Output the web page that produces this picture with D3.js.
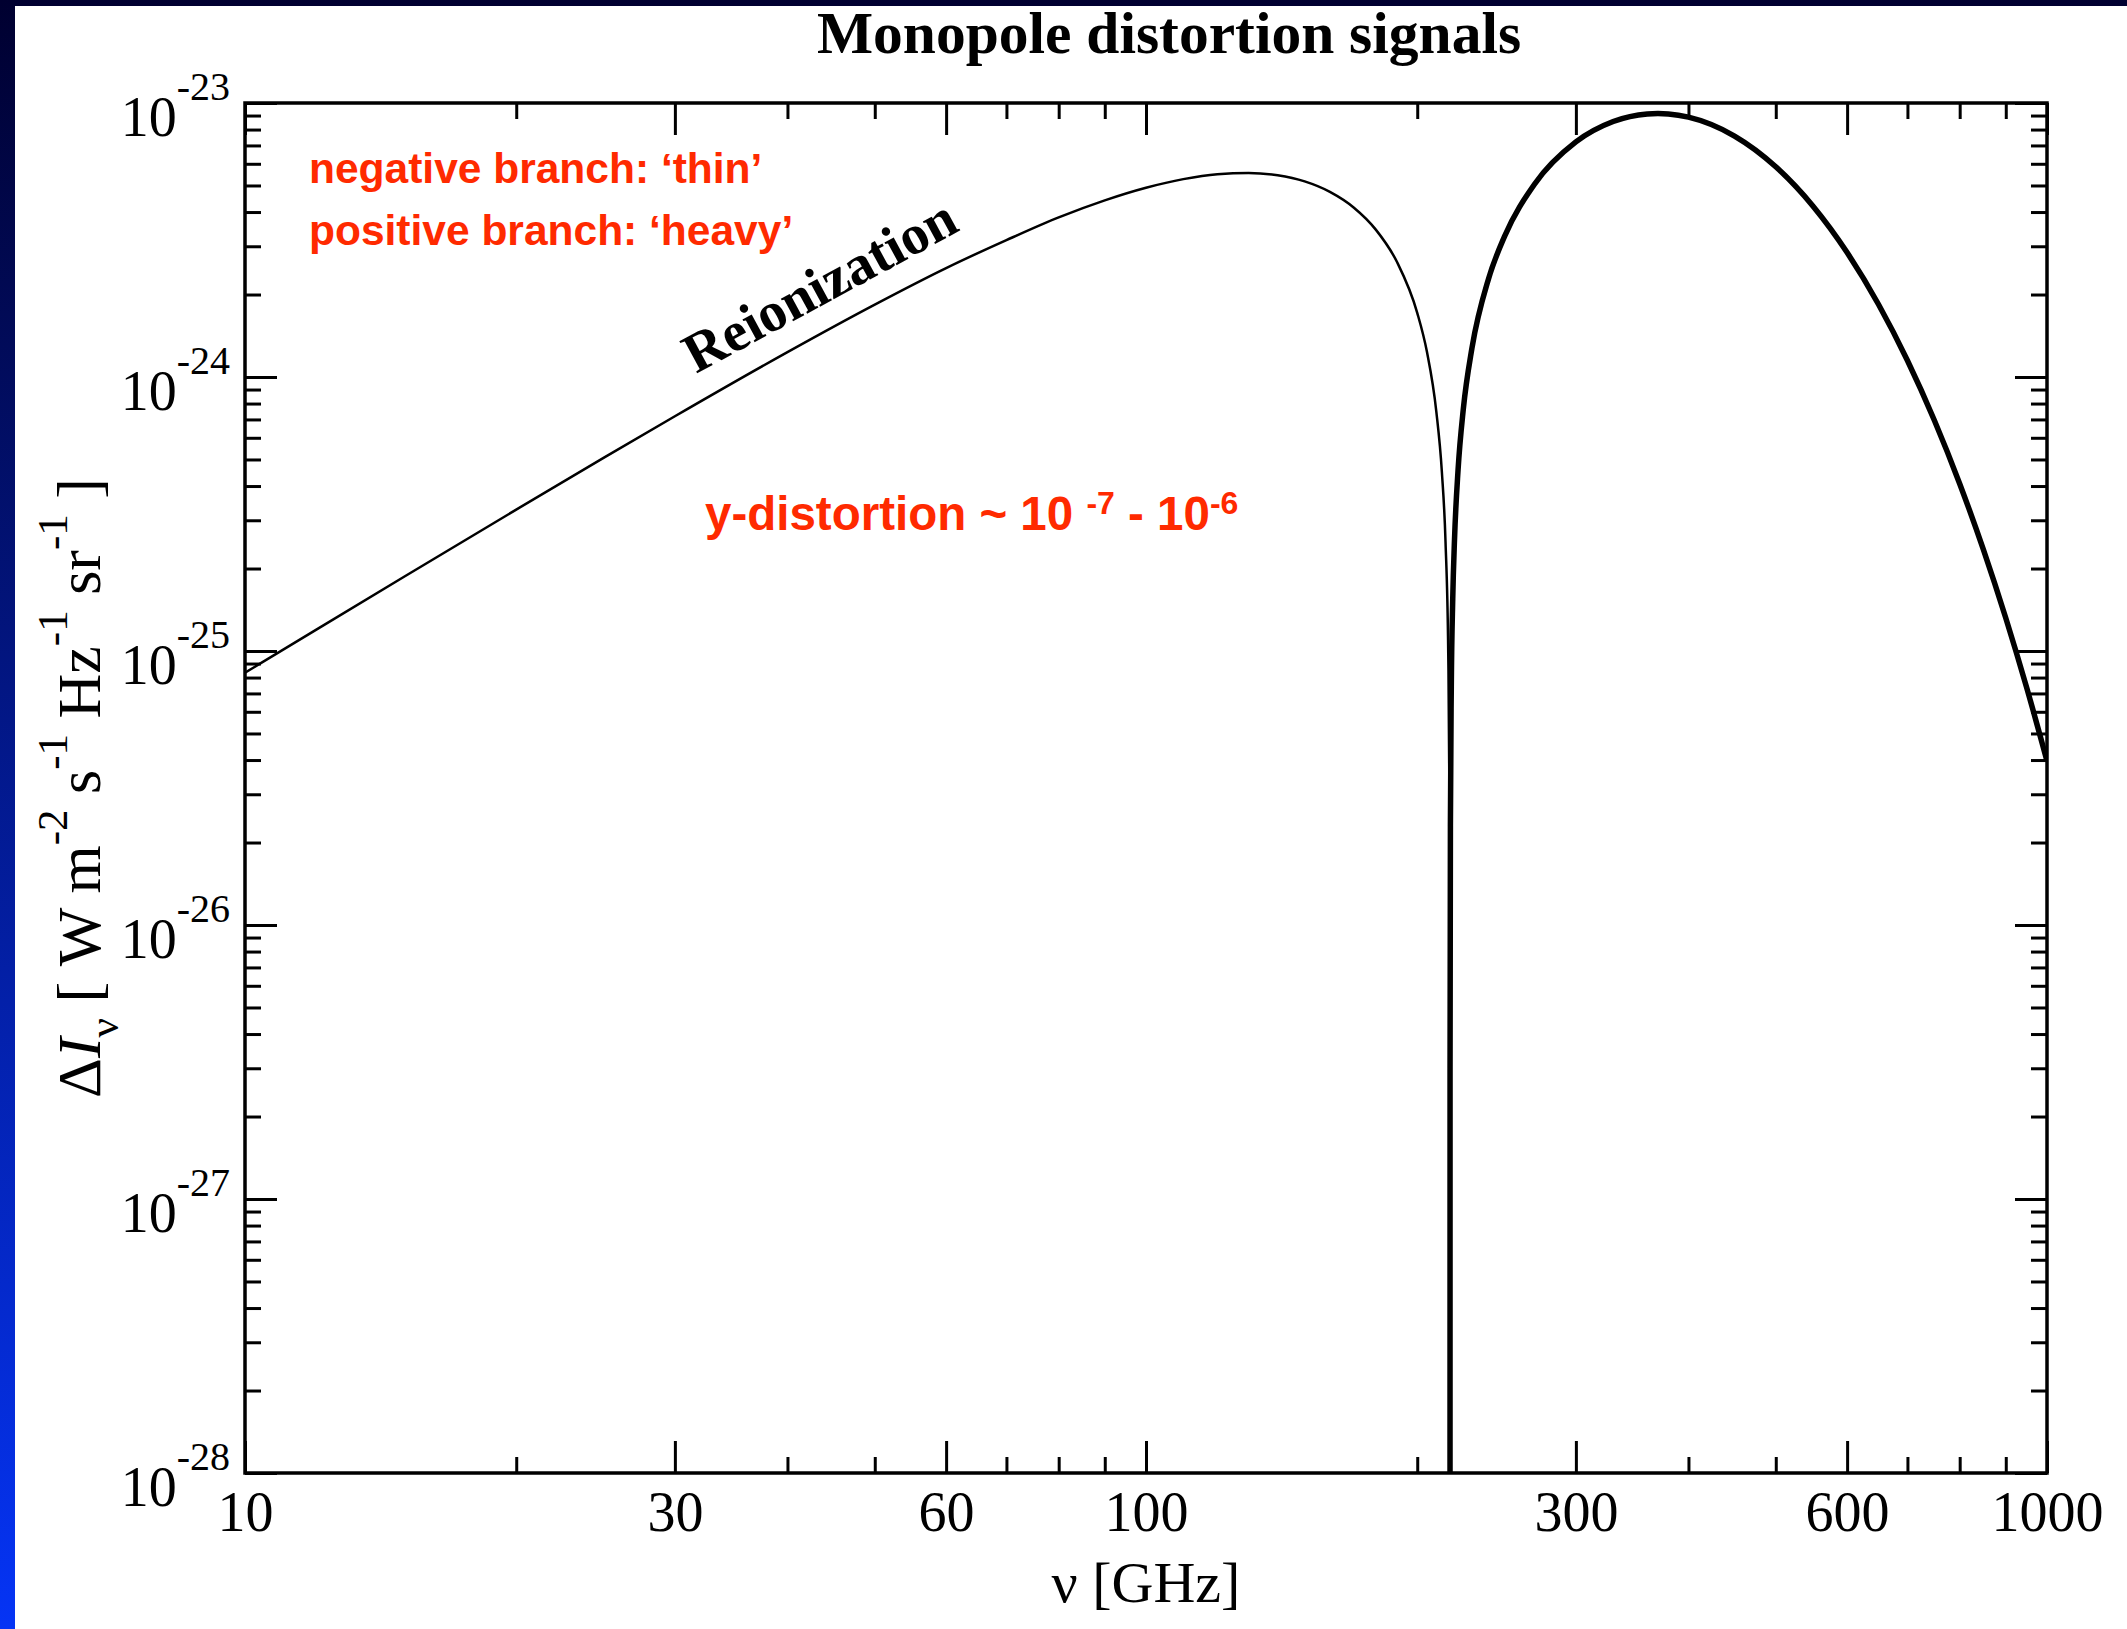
<!DOCTYPE html>
<html>
<head>
<meta charset="utf-8">
<script src="https://cdn.jsdelivr.net/npm/d3@7"></script>
<style>
  body { margin: 0; overflow: hidden; background: #fff; }
  .serif { font-family: "Liberation Serif", "Times New Roman", serif; }
  .sans { font-family: "Liberation Sans", Arial, sans-serif; }
</style>
</head>
<body>
<div id="chart"></div>
<script>
var svgWidth = 2127;
var svgHeight = 1629;

var margin = { top: 103, right: 80, bottom: 156, left: 245 };
var width = svgWidth - margin.left - margin.right;
var height = svgHeight - margin.top - margin.bottom;

// negative branch (plotted as |dI|), thin line
var negFreq = [10, 12, 15, 20, 25, 30, 40, 50, 60, 70, 80, 90, 100, 110, 120, 130, 140, 150,
  160, 170, 180, 190, 200, 205, 210, 213, 215, 216.5, 217.2, 217.45, 217.47];
var negVal = [8.33e-26, 1.197e-25, 1.862e-25, 3.281e-25, 5.067e-25, 7.193e-25, 1.233e-24, 1.838e-24,
  2.498e-24, 3.159e-24, 3.824e-24, 4.413e-24, 4.906e-24, 5.274e-24, 5.496e-24, 5.556e-24, 5.449e-24,
  5.174e-24, 4.738e-24, 4.156e-24, 3.443e-24, 2.622e-24, 1.715e-24, 1.238e-24, 7.48e-25, 4.5e-25,
  2.5e-25, 9.8e-26, 2.7e-26, 2e-27, 1e-30];

// positive branch, heavy line
var posFreq = [217.47, 217.5, 217.7, 218.2, 219, 220, 222, 225, 230, 240, 250, 270, 300, 330, 360,
  370, 380, 400, 450, 500, 550, 600, 650, 700, 750, 800, 850, 900, 950, 1000];
var posVal = [1e-30, 3e-27, 2.3e-26, 7.4e-26, 1.55e-25, 2.56e-25, 4.58e-25, 7.64e-25, 1.273e-24,
  2.285e-24, 3.259e-24, 5.063e-24, 7.211e-24, 8.56e-24, 9.122e-24, 9.154e-24, 9.12e-24, 8.877e-24,
  7.572e-24, 5.85e-24, 4.199e-24, 2.846e-24, 1.843e-24, 1.149e-24, 6.94e-25, 4.08e-25, 2.344e-25,
  1.319e-25, 7.29e-26, 3.97e-26];

var xTickMajor = [10, 30, 60, 100, 300, 600, 1000];
var xTickMinor = [20, 40, 50, 70, 80, 90, 200, 400, 500, 700, 800, 900];
var yExponents = [-28, -27, -26, -25, -24, -23];

var red = "#ff2a00";

var svg = d3.select("#chart")
  .append("svg")
  .attr("width", svgWidth)
  .attr("height", svgHeight);

// slide background (blue gradient) with white picture on top
var defs = svg.append("defs");
var grad = defs.append("linearGradient")
  .attr("id", "bg")
  .attr("x1", 0).attr("y1", 0).attr("x2", 0).attr("y2", 1);
grad.append("stop").attr("offset", "0%").attr("stop-color", "#000030");
grad.append("stop").attr("offset", "100%").attr("stop-color", "#0534f5");

svg.append("rect")
  .attr("width", svgWidth)
  .attr("height", svgHeight)
  .attr("fill", "url(#bg)");

svg.append("rect")
  .attr("x", 15)
  .attr("y", 6)
  .attr("width", svgWidth - 15)
  .attr("height", svgHeight - 6)
  .attr("fill", "#fff");

defs.append("clipPath")
  .attr("id", "plotclip")
  .append("rect")
  .attr("width", width)
  .attr("height", height);

var chartGroup = svg.append("g")
  .attr("transform", `translate(${margin.left}, ${margin.top})`);

// scales
var xScale = d3.scaleLog().domain([10, 1000]).range([0, width]);
var yScale = d3.scaleLog().domain([1e-28, 1e-23]).range([height, 0]);

var yMajor = yExponents.map(e => Math.pow(10, e));
var yMinor = [];
yExponents.slice(0, -1).forEach(function (e) {
  for (var m = 2; m <= 9; m++) yMinor.push(m * Math.pow(10, e));
});

function styleAxis(g) {
  g.select(".domain").remove();
  g.selectAll(".tick line").attr("stroke", "#000").attr("stroke-width", 3);
}

// bottom axis with labels
chartGroup.append("g")
  .attr("transform", `translate(0,${height})`)
  .call(d3.axisBottom(xScale).tickValues(xTickMajor).tickSizeInner(-32).tickSizeOuter(0)
    .tickPadding(18).tickFormat(d3.format("d")))
  .call(styleAxis)
  .selectAll("text")
  .attr("class", "serif")
  .attr("font-size", 56)
  .attr("fill", "#000");

chartGroup.append("g")
  .attr("transform", `translate(0,${height})`)
  .call(d3.axisBottom(xScale).tickValues(xTickMinor).tickSizeInner(-16).tickSizeOuter(0).tickFormat(""))
  .call(styleAxis);

// top axis
chartGroup.append("g")
  .call(d3.axisTop(xScale).tickValues(xTickMajor).tickSizeInner(-32).tickSizeOuter(0).tickFormat(""))
  .call(styleAxis);
chartGroup.append("g")
  .call(d3.axisTop(xScale).tickValues(xTickMinor).tickSizeInner(-16).tickSizeOuter(0).tickFormat(""))
  .call(styleAxis);

// left and right axes
chartGroup.append("g")
  .call(d3.axisLeft(yScale).tickValues(yMajor).tickSizeInner(-32).tickSizeOuter(0).tickFormat(""))
  .call(styleAxis);
chartGroup.append("g")
  .call(d3.axisLeft(yScale).tickValues(yMinor).tickSizeInner(-16).tickSizeOuter(0).tickFormat(""))
  .call(styleAxis);
chartGroup.append("g")
  .attr("transform", `translate(${width},0)`)
  .call(d3.axisRight(yScale).tickValues(yMajor).tickSizeInner(-32).tickSizeOuter(0).tickFormat(""))
  .call(styleAxis);
chartGroup.append("g")
  .attr("transform", `translate(${width},0)`)
  .call(d3.axisRight(yScale).tickValues(yMinor).tickSizeInner(-16).tickSizeOuter(0).tickFormat(""))
  .call(styleAxis);

// y tick labels 10^n
var yLabels = chartGroup.selectAll(".ylab")
  .data(yExponents)
  .enter()
  .append("text")
  .attr("class", "serif ylab")
  .attr("x", -15)
  .attr("y", d => yScale(Math.pow(10, d)) + 33)
  .attr("text-anchor", "end")
  .attr("fill", "#000");
yLabels.append("tspan").attr("font-size", 56).text("10");
yLabels.append("tspan").attr("font-size", 40).attr("dy", -36).text(d => String(d));

// frame
chartGroup.append("rect")
  .attr("width", width)
  .attr("height", height)
  .attr("fill", "none")
  .attr("stroke", "#000")
  .attr("stroke-width", 3.5);

// curves
var line = d3.line()
  .x(d => xScale(d[0]))
  .y(d => yScale(d[1]))
  .curve(d3.curveMonotoneX);

var curves = chartGroup.append("g").attr("clip-path", "url(#plotclip)");

curves.append("path")
  .datum(negFreq.map((f, i) => [f, negVal[i]]))
  .attr("d", line)
  .attr("fill", "none")
  .attr("stroke", "#000")
  .attr("stroke-width", 2.5);

curves.append("path")
  .datum(posFreq.map((f, i) => [f, posVal[i]]))
  .attr("d", line)
  .attr("fill", "none")
  .attr("stroke", "#000")
  .attr("stroke-width", 5.5)
  .attr("stroke-linejoin", "round");

// title
svg.append("text")
  .attr("class", "serif")
  .attr("x", 1169)
  .attr("y", 53)
  .attr("text-anchor", "middle")
  .attr("font-size", 59.5)
  .attr("font-weight", "bold")
  .text("Monopole distortion signals");

// x axis title
svg.append("text")
  .attr("class", "serif")
  .attr("x", margin.left + width / 2)
  .attr("y", 1602)
  .attr("text-anchor", "middle")
  .attr("font-size", 58)
  .text("\u03bd [GHz]");

// y axis title
var yTitle = svg.append("text")
  .attr("class", "serif")
  .attr("transform", `translate(100, ${margin.top + height / 2}) rotate(-90)`)
  .attr("text-anchor", "middle")
  .attr("font-size", 62)
  .attr("fill", "#000");
yTitle.append("tspan").text("\u0394");
yTitle.append("tspan").attr("font-style", "italic").text("I");
yTitle.append("tspan").attr("font-size", 43).attr("dy", 18).text("\u03bd");
yTitle.append("tspan").attr("dy", -18).text(" [ W m");
[["-2", " s"], ["-1", " Hz"], ["-1", " sr"], ["-1", " ]"]].forEach(function (p) {
  yTitle.append("tspan").attr("font-size", 43).attr("dy", -33).text(p[0]);
  yTitle.append("tspan").attr("dy", 33).text(p[1]);
});

// annotations
svg.append("text")
  .attr("class", "sans")
  .attr("x", 309).attr("y", 183)
  .attr("font-size", 42.5).attr("font-weight", "bold")
  .attr("fill", red)
  .text("negative branch: \u2018thin\u2019");

svg.append("text")
  .attr("class", "sans")
  .attr("x", 309).attr("y", 245)
  .attr("font-size", 42.5).attr("font-weight", "bold")
  .attr("fill", red)
  .text("positive branch: \u2018heavy\u2019");

var yd = svg.append("text")
  .attr("class", "sans")
  .attr("x", 705).attr("y", 530)
  .attr("font-size", 47.5).attr("font-weight", "bold")
  .attr("fill", red);
yd.append("tspan").text("y-distortion ~ 10 ");
yd.append("tspan").attr("font-size", 32).attr("dy", -16).text("-7");
yd.append("tspan").attr("dy", 16).text(" - 10");
yd.append("tspan").attr("font-size", 32).attr("dy", -16).text("-6");

svg.append("text")
  .attr("class", "serif")
  .attr("transform", "translate(696, 374) rotate(-28.5)")
  .attr("font-size", 56)
  .attr("font-weight", "bold")
  .text("Reionization");
</script>
</body>
</html>
